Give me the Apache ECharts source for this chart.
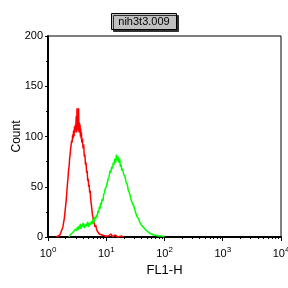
<!DOCTYPE html>
<html>
<head>
<meta charset="utf-8">
<script src="https://cdn.jsdelivr.net/npm/echarts@6/dist/echarts.min.js"></script>
<style>
  html, body { margin: 0; padding: 0; background: #fff; }
  #chart { width: 288px; height: 288px; }
</style>
</head>
<body>
<div id="chart"></div>
<script>
const titleText = 'nih3t3.009'
const xName = 'FL1-H'
const yName = 'Count'
const minorTicks = [2, 3, 4, 5, 6, 7, 8, 9, 20, 30, 40, 50, 60, 70, 80, 90,
  200, 300, 400, 500, 600, 700, 800, 900, 2000, 3000, 4000, 5000, 6000, 7000, 8000, 9000]

// red histogram (FL1-H, count)
const redX = [1.4, 1.5, 1.6, 1.65, 1.7, 1.75, 1.8, 1.85, 1.9, 1.95, 2.0, 2.05, 2.1, 2.15, 2.2, 2.25,
  2.3, 2.35, 2.4, 2.45, 2.5, 2.55, 2.6, 2.65, 2.7, 2.75, 2.8, 2.85, 2.9, 2.95, 3.0, 3.05, 3.1, 3.15,
  3.2, 3.25, 3.3, 3.35, 3.4, 3.45, 3.5, 3.55, 3.6, 3.65, 3.7, 3.75, 3.8, 3.9, 4.0, 4.1, 4.2, 4.3,
  4.4, 4.5, 4.6, 4.7, 4.8, 4.9, 5.0, 5.1, 5.2, 5.3, 5.4, 5.5, 5.6, 5.7, 5.8, 5.9, 6.0, 6.2, 6.4,
  6.6, 6.8, 7.0, 7.3, 7.6, 8.0, 8.5, 9.0, 9.5, 10, 11, 12, 13, 14, 15, 16, 18, 20]
const redY = [0, 1, 2, 4, 3, 8, 10, 14, 18, 24, 30, 36, 44, 52, 58, 66,
  70, 78, 82, 88, 92, 96, 94, 102, 98, 106, 100, 110, 104, 112, 108, 120, 104, 128,
  106, 118, 110, 128, 104, 114, 106, 112, 100, 108, 98, 104, 94, 98, 88, 92, 80, 82,
  72, 74, 64, 66, 56, 58, 50, 52, 44, 46, 38, 34, 30, 26, 22, 20, 16, 14, 10,
  12, 8, 6, 5, 3, 4, 2, 3, 1, 2, 1, 3, 0, 2, 1, 0, 1, 0]

// green histogram (FL1-H, count)
const greenX = [2.3, 2.4, 2.5, 2.6, 2.7, 2.8, 2.9, 3.0, 3.1, 3.2, 3.3, 3.4, 3.5, 3.6, 3.7, 3.8, 3.9,
  4.0, 4.2, 4.4, 4.6, 4.8, 5.0, 5.2, 5.4, 5.6, 5.8, 6.0, 6.2, 6.4, 6.6, 6.8, 7.0, 7.2, 7.4, 7.6,
  7.8, 8.0, 8.2, 8.5, 8.8, 9.0, 9.3, 9.6, 10, 10.4, 10.8, 11.2, 11.6, 12, 12.4, 12.8, 13.2, 13.6,
  14, 14.5, 15, 15.5, 16, 16.5, 17, 17.5, 18, 18.5, 19, 20, 21, 22, 23, 24, 25, 26, 27, 28, 30,
  32, 34, 36, 38, 40, 43, 46, 50, 55, 60, 65, 70, 80, 90, 100]
const greenY = [0, 2, 1, 4, 3, 6, 5, 8, 6, 10, 7, 11, 9, 13, 8, 12, 10,
  14, 9, 13, 11, 15, 10, 14, 12, 16, 13, 18, 15, 20, 18, 22, 20, 26, 24, 30,
  28, 34, 32, 38, 36, 42, 44, 48, 50, 54, 58, 60, 66, 64, 70, 68, 74, 72,
  78, 74, 82, 76, 80, 74, 78, 70, 72, 66, 68, 62, 60, 54, 52, 46, 44, 40, 36, 34, 30,
  24, 20, 18, 14, 12, 10, 8, 6, 4, 3, 2, 2, 1, 1, 0]

const chart = echarts.init(document.getElementById('chart'))
const font = 'Liberation Sans, Arial, sans-serif'

const option = {
  animation: false,
  title: {
    text: titleText,
    left: 'center',
    top: 13,
    padding: [3, 7, 3, 7],
    backgroundColor: '#c0c0c0',
    borderColor: '#000',
    borderWidth: 1,
    shadowColor: '#303030',
    shadowOffsetX: 2,
    shadowOffsetY: 2,
    shadowBlur: 0,
    textStyle: { fontFamily: font, fontSize: 11, fontWeight: 'normal', color: '#000' }
  },
  grid: {
    left: 48, right: 7, top: 36, bottom: 51,
    outerBoundsMode: 'none', containLabel: false,
    show: true, borderColor: '#000', borderWidth: 1
  },
  xAxis: [
    {
      type: 'log', logBase: 10, min: 1, max: 10000,
      name: xName, nameLocation: 'middle', nameGap: 26,
      nameTextStyle: { fontFamily: font, fontSize: 13, color: '#000' },
      axisLine: { lineStyle: { color: '#000', width: 2 } },
      axisTick: { length: 4, lineStyle: { color: '#000' } },
      splitLine: { show: false },
      axisLabel: {
        margin: 9,
        fontFamily: font, fontSize: 11, color: '#000',
        formatter: v => '10{sup|' + Math.round(Math.log10(v)) + '}',
        rich: { sup: { fontFamily: font, fontSize: 8, color: '#000', verticalAlign: 'top', padding: [0, 0, 8, 0] } }
      }
    },
    {
      type: 'log', logBase: 10, min: 1, max: 10000, position: 'bottom',
      axisLine: { show: false },
      axisTick: { customValues: minorTicks, length: 2, lineStyle: { color: '#000' } },
      axisLabel: { show: false },
      splitLine: { show: false }
    }
  ],
  yAxis: {
    type: 'value', min: 0, max: 200, interval: 50,
    name: yName, nameLocation: 'middle', nameGap: 25, nameMoveOverlap: false,
    nameTextStyle: { fontFamily: font, fontSize: 12, color: '#000' },
    axisLine: { show: true, lineStyle: { color: '#000', width: 2 } },
    axisTick: { show: true, length: 3, lineStyle: { color: '#000' } },
    minorTick: { show: true, splitNumber: 2, length: 2, lineStyle: { color: '#000' } },
    splitLine: { show: false },
    axisLabel: { margin: 5, fontFamily: font, fontSize: 11, color: '#000' }
  },
  series: [
    {
      type: 'line', symbol: 'none',
      data: redX.map((x, i) => [x, redY[i]]),
      lineStyle: { color: '#ff0000', width: 1.5 }
    },
    {
      type: 'line', symbol: 'none',
      data: greenX.map((x, i) => [x, greenY[i]]),
      lineStyle: { color: '#00ff00', width: 1.5 }
    }
  ]
}
chart.setOption(option)
</script>
</body>
</html>
